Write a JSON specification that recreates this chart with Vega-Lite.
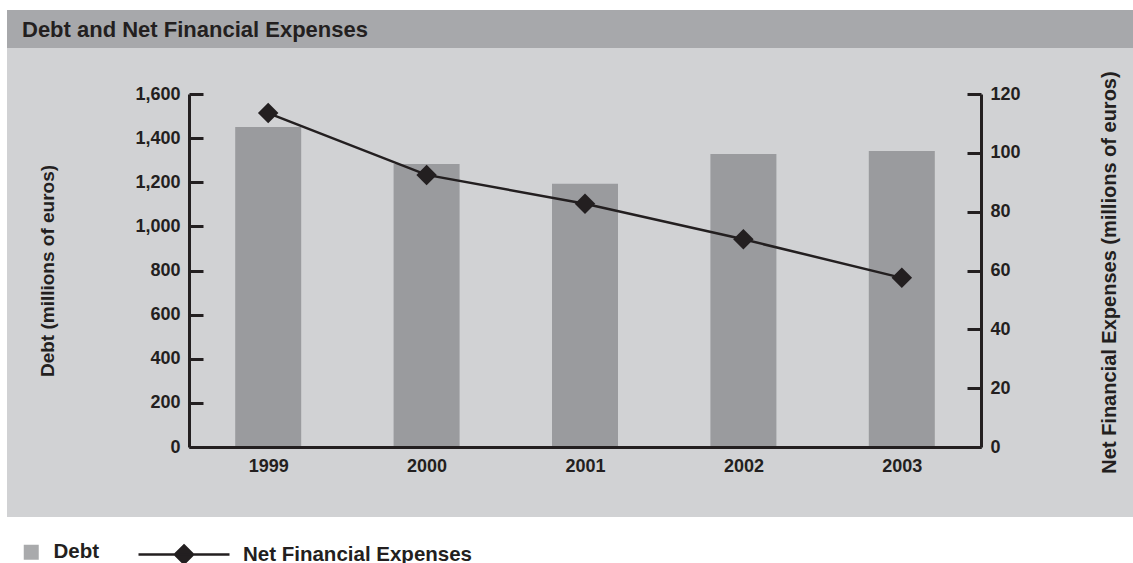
{
  "$schema": "https://vega.github.io/schema/vega-lite/v6.json",
  "width": 792,
  "height": 353,
  "autosize": {"type": "none"},
  "padding": {"left": 189, "top": 94, "right": 152, "bottom": 116},
  "background": "#d1d2d4",
  "config": {
    "view": {"stroke": null},
    "font": "Liberation Sans",
    "axis": {
      "grid": false,
      "domainColor": "#231f20",
      "domainWidth": 3,
      "tickColor": "#231f20",
      "tickWidth": 3,
      "labelColor": "#231f20",
      "titleColor": "#231f20",
      "labelFont": "Liberation Sans",
      "titleFont": "Liberation Sans",
      "labelFontSize": 18,
      "labelFontWeight": "bold",
      "titleFontWeight": "bold"
    },
    "legend": {
      "labelFont": "Liberation Sans",
      "labelColor": "#231f20",
      "labelFontSize": 20.5,
      "labelFontWeight": "bold",
      "labelLimit": 400,
      "padding": 0
    }
  },
  "title": {
    "text": "Debt and Net Financial Expenses",
    "anchor": "start",
    "frame": "group",
    "dx": -167,
    "dy": 34,
    "offset": -25,
    "baseline": "alphabetic",
    "font": "Liberation Sans",
    "fontSize": 22,
    "fontWeight": "bold",
    "color": "#231f20"
  },
  "data": {
    "values": [
      {"year": 1999, "debt": 1450, "nfe": 113.5},
      {"year": 2000, "debt": 1283, "nfe": 92.5},
      {"year": 2001, "debt": 1193, "nfe": 82.7},
      {"year": 2002, "debt": 1328, "nfe": 70.6},
      {"year": 2003, "debt": 1342, "nfe": 57.5}
    ]
  },
  "layer": [
    {
      "layer": [
        {
          "data": {"values": [{"part": "top margin"}]},
          "mark": {"type": "rect", "color": "#ffffff"},
          "encoding": {
            "x": {"datum": 1997.2, "type": "quantitative", "scale": {"domain": [1998.5, 2003.5], "nice": false, "zero": false, "padding": 0}},
            "x2": {"datum": 2004.6},
            "y": {"datum": 1980.7, "type": "quantitative", "scale": {"domain": [0, 1600], "nice": false, "zero": false, "padding": 0}},
            "y2": {"datum": 2026.1}
          }
        },
        {
          "data": {"values": [{"part": "left margin"}]},
          "mark": {"type": "rect", "color": "#ffffff"},
          "encoding": {
            "x": {"datum": 1997.2, "type": "quantitative", "scale": {"domain": [1998.5, 2003.5], "nice": false, "zero": false, "padding": 0}},
            "x2": {"datum": 1997.351},
            "y": {"datum": -317.3, "type": "quantitative", "scale": {"domain": [0, 1600], "nice": false, "zero": false, "padding": 0}},
            "y2": {"datum": 1980.7}
          }
        },
        {
          "data": {"values": [{"part": "bottom margin"}]},
          "mark": {"type": "rect", "color": "#ffffff"},
          "encoding": {
            "x": {"datum": 1997.2, "type": "quantitative", "scale": {"domain": [1998.5, 2003.5], "nice": false, "zero": false, "padding": 0}},
            "x2": {"datum": 2004.6},
            "y": {"datum": -560, "type": "quantitative", "scale": {"domain": [0, 1600], "nice": false, "zero": false, "padding": 0}},
            "y2": {"datum": -317.3}
          }
        },
        {
          "data": {"values": [{"part": "title bar"}]},
          "mark": {"type": "rect", "color": "#a7a8ab"},
          "encoding": {
            "x": {"datum": 1997.351, "type": "quantitative", "scale": {"domain": [1998.5, 2003.5], "nice": false, "zero": false, "padding": 0}},
            "x2": {"datum": 2004.6},
            "y": {"datum": 1808.5, "type": "quantitative", "scale": {"domain": [0, 1600], "nice": false, "zero": false, "padding": 0}},
            "y2": {"datum": 1980.7}
          }
        },
        {
          "mark": {"type": "bar", "width": 66},
          "encoding": {
            "x": {
              "field": "year",
              "type": "quantitative",
              "scale": {"domain": [1998.5, 2003.5], "nice": false, "zero": false, "padding": 0},
              "axis": {
                "orient": "bottom",
                "zindex": 1,
                "values": [1999, 2000, 2001, 2002, 2003],
                "format": "d",
                "ticks": false,
                "grid": false,
                "labelPadding": 10,
                "labelFlush": false,
                "labelOverlap": false,
                "title": null
              }
            },
            "y": {
              "field": "debt",
              "type": "quantitative",
              "scale": {"domain": [0, 1600], "nice": false, "zero": false, "padding": 0},
              "axis": {
                "orient": "left",
                "zindex": 1,
                "values": [0, 200, 400, 600, 800, 1000, 1200, 1400, 1600],
                "format": ",d",
                "grid": false,
                "tickSize": -14,
                "labelPadding": 23,
                "title": "Debt (millions of euros)",
                "titleFontSize": 19,
                "titleX": -132,
                "titleY": 176.5,
                "titleAngle": -90,
                "titleBaseline": "bottom",
                "titleAlign": "center"
              }
            },
            "fill": {
              "datum": "Debt",
              "scale": {"range": ["#9a9b9e"]},
              "legend": {
                "orient": "none",
                "legendX": -168,
                "legendY": 448,
                "title": null,
                "symbolType": "square",
                "symbolSize": 225,
                "symbolOpacity": 0.85,
                "labelOffset": 12
              }
            }
          }
        }
      ]
    },
    {
      "layer": [
        {
          "mark": {"type": "line", "strokeWidth": 2.5},
          "encoding": {
            "x": {"field": "year", "type": "quantitative", "scale": {"domain": [1998.5, 2003.5], "nice": false, "zero": false, "padding": 0}},
            "y": {
              "field": "nfe",
              "type": "quantitative",
              "scale": {"domain": [0, 120], "nice": false, "zero": false, "padding": 0},
              "axis": {
                "orient": "right",
                "zindex": 1,
                "values": [0, 20, 40, 60, 80, 100, 120],
                "format": "d",
                "grid": false,
                "tickSize": -14,
                "labelPadding": 23,
                "title": "Net Financial Expenses (millions of euros)",
                "titleFontSize": 20,
                "titleX": 118.4,
                "titleY": 178,
                "titleAngle": -90,
                "titleBaseline": "top",
                "titleAlign": "center"
              }
            },
            "stroke": {
              "datum": "Net Financial Expenses",
              "scale": {"range": ["#231f20"]},
              "legend": {
                "orient": "none",
                "legendX": -52,
                "legendY": 413.5,
                "title": null,
                "symbolType": "M-1,0L1,0M0,-0.2L0.2,0L0,0.2L-0.2,0Z",
                "symbolSize": 8281,
                "symbolStrokeWidth": 2.5,
                "symbolFillColor": "#231f20",
                "labelOffset": 12
              }
            }
          }
        },
        {
          "mark": {"type": "point", "shape": "diamond", "filled": true, "size": 420, "color": "#231f20", "opacity": 1},
          "encoding": {
            "x": {"field": "year", "type": "quantitative", "scale": {"domain": [1998.5, 2003.5], "nice": false, "zero": false, "padding": 0}},
            "y": {"field": "nfe", "type": "quantitative", "scale": {"domain": [0, 120], "nice": false, "zero": false, "padding": 0}}
          }
        }
      ]
    }
  ],
  "resolve": {"scale": {"y": "independent"}}
}
